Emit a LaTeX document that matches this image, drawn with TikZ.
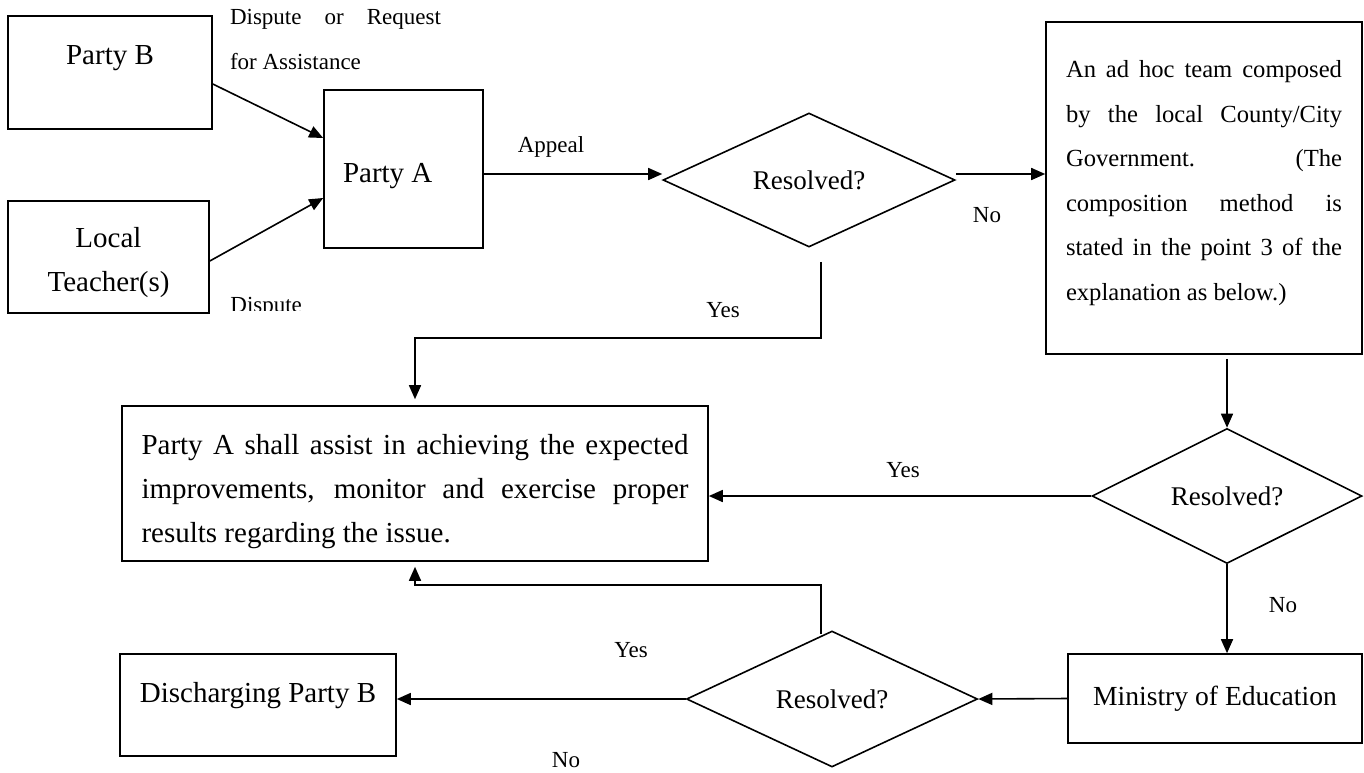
\documentclass[tikz,border=0pt]{standalone}
\usepackage{fontspec}
\setmainfont{Liberation Serif}
\usetikzlibrary{arrows.meta,shapes.geometric}
\hbadness=10000

\begin{document}
\begin{tikzpicture}[
    x=0.5pt,y=-0.5pt,
    box/.style={draw,line width=0.8pt,inner sep=0pt,align=center,
      font=\fontsize{14.5}{22}\selectfont},
    decision/.style={draw,diamond,aspect=2.2,line width=0.8pt,inner sep=1pt,
      font=\fontsize{13.5}{22}\selectfont},
    lbl/.style={inner sep=0pt,font=\fontsize{11.5}{22.5}\selectfont},
    arr/.style={-{Triangle[length=7pt,width=6pt]},line width=0.8pt}
  ]
    \useasboundingbox (0,0) rectangle (1364,772);
    \node[box,minimum width=102pt,minimum height=56.5pt,text depth=17.5pt] (pb) at (110,72.5) {Party B};
    \node[box,minimum width=100.5pt,minimum height=56pt,text height=38pt] (lt) at (108.5,257) {Local\\Teacher(s)};
    \node[box,minimum width=79.5pt,minimum height=79pt,text width=60.5pt,inner xsep=9.5pt,
      align=flush left,text height=16.8pt] (pa) at (403.5,169) {Party A};
    \node[decision,minimum width=146pt,minimum height=67pt] (d1) at (809,180) {Resolved?};
    \node[box,minimum width=158pt,minimum height=166pt,text width=138pt,inner xsep=10pt,
      align=justify,text depth=119pt,font=\fontsize{12.3}{22.3}\selectfont] (adhoc) at (1204,188)
      {An ad hoc team composed\linebreak by the local County/City\linebreak Government. (The\linebreak
       composition method is\linebreak stated in the point 3 of the\linebreak explanation as below.)};
    \node[box,minimum height=77.5pt,text width=273.5pt,inner xsep=9.75pt,align=justify,
      text height=18pt] (big) at (415,483.5)
      {Party A shall assist in achieving the expected\linebreak improvements, monitor and exercise proper\linebreak
       results regarding the issue.};
    \node[decision,minimum width=135pt,minimum height=67.5pt] (d2) at (1227,496) {Resolved?};
    \node[box,minimum width=147pt,minimum height=44.5pt,font=\fontsize{13.8}{22}\selectfont] (mo)
      at (1215,698.5) {Ministry of Education};
    \node[decision,minimum width=145.5pt,minimum height=68pt] (d3) at (832,699) {Resolved?};
    \node[box,minimum width=138pt,minimum height=51pt,text depth=13pt] (dc) at (258,705) {Discharging Party B};

    \node[lbl,text width=105.5pt,align=justify] (req) at (335.5,39.5) {Dispute or Request\linebreak for Assistance};
    \begin{scope}
      \clip (220,280) rectangle (330,310);
      \node[lbl,anchor=base west] (disp) at (230,312) {Dispute};
    \end{scope}
    \node[lbl] (appeal) at (551,147) {Appeal};
    \node[lbl] (no1) at (987,215) {No};
    \node[lbl] (yes1) at (723,310) {Yes};
    \node[lbl] (yes2) at (903,470) {Yes};
    \node[lbl] (no2) at (1283,605) {No};
    \node[lbl] (yes3) at (631,650) {Yes};
    \node[lbl] (no3) at (566,760) {No};

    \draw[arr] ([yshift=-5.75pt]pb.east) -- ([yshift=15.5pt]pa.west);
    \draw[arr] ([yshift=-2pt]lt.east) -- ([yshift=-14.5pt]pa.west);
    \draw[arr] ([yshift=-2.5pt]pa.east) -- ([yshift=3pt]d1.west);
    \draw[arr] ([yshift=3pt]d1.east) -- ([yshift=3pt]d1.east -| adhoc.west);
    \draw[arr] ([xshift=6pt,yshift=-7pt]d1.south) -- ++(0,76) -| ([yshift=3pt]big.north);
    \draw[arr] ([yshift=-2pt]adhoc.south -| d2.north) -- (d2.north);
    \draw[arr] (d2.west) -- (d2.west -| big.east);
    \draw[arr] (d2.south) -- (d2.south |- mo.north);
    \draw[arr] (mo.west) -- (d3.east);
    \draw[arr] ([xshift=-5.5pt,yshift=-2pt]d3.north) -- ++(0,-49) -| ([yshift=-2.5pt]big.south);
    \draw[arr] (d3.west) -- (d3.west -| dc.east);
  \end{tikzpicture}
\end{document}
